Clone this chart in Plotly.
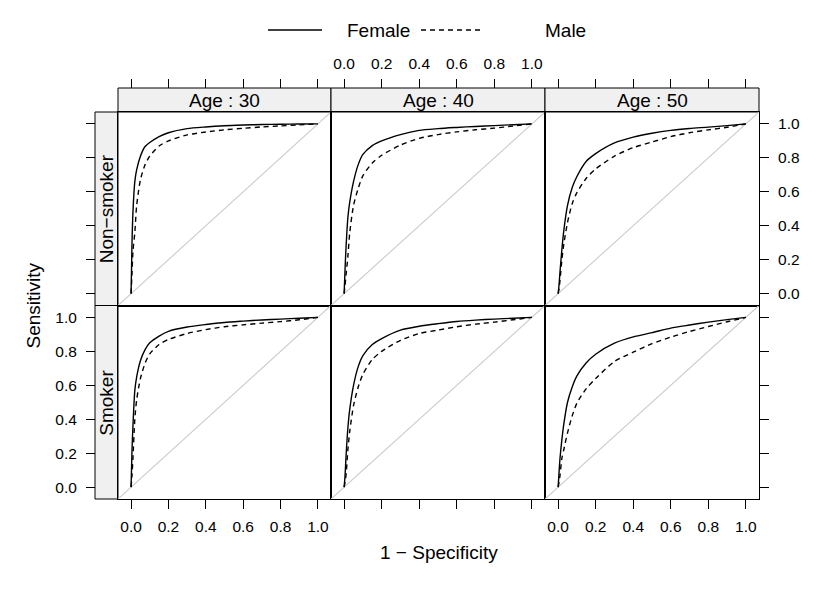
import plotly.graph_objects as go

# ---------------- data ----------------
ages = ["30", "40", "50"]
groups = ["Non\u2212smoker", "Smoker"]
sexes = ["Female", "Male"]
tick_vals = [0.0, 0.2, 0.4, 0.6, 0.8, 1.0]
tick_text = ["0.0", "0.2", "0.4", "0.6", "0.8", "1.0"]

fpr = [0, 0.005, 0.01, 0.02, 0.03, 0.05, 0.075, 0.1, 0.15, 0.2, 0.3, 0.4, 0.5, 0.6, 0.7, 0.8, 0.9, 1.0]

female_30_ns = [0, 0.30, 0.48, 0.66, 0.73, 0.81, 0.867, 0.89, 0.925, 0.948, 0.972, 0.982, 0.989, 0.993, 0.996, 0.998, 0.999, 1.0]
male_30_ns = [0, 0.12, 0.25, 0.36, 0.52, 0.67, 0.76, 0.81, 0.87, 0.90, 0.935, 0.952, 0.965, 0.974, 0.982, 0.988, 0.994, 1.0]
female_40_ns = [0, 0.15, 0.27, 0.45, 0.54, 0.66, 0.76, 0.82, 0.872, 0.90, 0.937, 0.962, 0.972, 0.979, 0.985, 0.99, 0.995, 1.0]
male_40_ns = [0, 0.05, 0.11, 0.22, 0.36, 0.52, 0.62, 0.695, 0.77, 0.815, 0.875, 0.915, 0.937, 0.953, 0.965, 0.975, 0.987, 1.0]
female_50_ns = [0, 0.055, 0.13, 0.26, 0.37, 0.52, 0.625, 0.69, 0.78, 0.825, 0.888, 0.922, 0.945, 0.962, 0.973, 0.981, 0.99, 1.0]
male_50_ns = [0, 0.03, 0.08, 0.20, 0.29, 0.42, 0.53, 0.595, 0.68, 0.735, 0.81, 0.86, 0.893, 0.925, 0.948, 0.965, 0.98, 1.0]

female_30_s = [0, 0.22, 0.36, 0.57, 0.65, 0.745, 0.81, 0.85, 0.89, 0.918, 0.943, 0.958, 0.97, 0.978, 0.985, 0.99, 0.995, 1.0]
male_30_s = [0, 0.07, 0.17, 0.40, 0.515, 0.64, 0.73, 0.785, 0.84, 0.87, 0.905, 0.928, 0.945, 0.956, 0.966, 0.975, 0.986, 1.0]
female_40_s = [0, 0.07, 0.18, 0.35, 0.46, 0.60, 0.71, 0.775, 0.84, 0.875, 0.925, 0.948, 0.963, 0.976, 0.984, 0.99, 0.995, 1.0]
male_40_s = [0, 0.03, 0.07, 0.22, 0.33, 0.48, 0.59, 0.665, 0.752, 0.80, 0.865, 0.905, 0.925, 0.945, 0.96, 0.972, 0.986, 1.0]
female_50_s = [0, 0.09, 0.17, 0.28, 0.37, 0.50, 0.59, 0.655, 0.733, 0.783, 0.848, 0.885, 0.91, 0.937, 0.955, 0.972, 0.987, 1.0]
male_50_s = [0, 0.03, 0.07, 0.17, 0.22, 0.32, 0.42, 0.495, 0.58, 0.64, 0.74, 0.795, 0.845, 0.884, 0.917, 0.946, 0.974, 1.0]

female = [[female_30_ns, female_40_ns, female_50_ns], [female_30_s, female_40_s, female_50_s]]
male = [[male_30_ns, male_40_ns, male_50_ns], [male_30_s, male_40_s, male_50_s]]

# ---------------- layout geometry (pixels) ----------------
W, H = 830, 593
col_px = [(118, 331), (331, 545), (545, 759)]
row_px = [(112, 305.5), (305.5, 499)]   # top, bottom (pixel y from top)
strip_top = 88
strip_left = 95
RNG = [-0.07, 1.07]
FONT = "Liberation Sans, Arial, Helvetica, sans-serif"
TICKFONT = dict(family=FONT, size=15.5, color="black")
DASH = "5px,4px"
LW = 1.4

def fx(p):
    return p / W

def fy(p):
    return (H - p) / H

fig = go.Figure()
layout = {}

for r in range(2):
    for c in range(3):
        i = r * 3 + c + 1
        xa = "x" if i == 1 else f"x{i}"
        ya = "y" if i == 1 else f"y{i}"
        # reference diagonal (chance line across the full panel)
        fig.add_trace(go.Scatter(x=RNG, y=RNG, mode="lines", xaxis=xa, yaxis=ya,
                                 line=dict(color="#cccccc", width=1.1), showlegend=False,
                                 hoverinfo="skip"))
        fig.add_trace(go.Scatter(x=fpr, y=female[r][c], mode="lines", xaxis=xa, yaxis=ya,
                                 line=dict(color="black", width=LW, shape="spline", smoothing=0.7),
                                 name=sexes[0], showlegend=False))
        fig.add_trace(go.Scatter(x=fpr, y=male[r][c], mode="lines", xaxis=xa, yaxis=ya,
                                 line=dict(color="black", width=LW, dash=DASH, shape="spline", smoothing=0.7),
                                 name=sexes[1], showlegend=False))
        xkey = "xaxis" if i == 1 else f"xaxis{i}"
        ykey = "yaxis" if i == 1 else f"yaxis{i}"
        show_xt = (r == 1)
        layout[xkey] = dict(domain=[fx(col_px[c][0]), fx(col_px[c][1])], anchor=ya, range=RNG,
                            showgrid=False, zeroline=False, showline=True, mirror=True,
                            linecolor="black", linewidth=1,
                            ticks="outside" if show_xt else "", ticklen=9, tickcolor="black",
                            tickvals=tick_vals, ticktext=tick_text,
                            showticklabels=(r == 1 and c != 1), tickfont=TICKFONT,
                            ticklabelstandoff=4)
        right = (c == 2)
        layout[ykey] = dict(domain=[fy(row_px[r][1]), fy(row_px[r][0])], anchor=xa, range=RNG,
                            showgrid=False, zeroline=False, showline=True, mirror=True,
                            linecolor="black", linewidth=1,
                            side="right" if right else "left",
                            ticks="outside" if right else "", ticklen=9, tickcolor="black",
                            tickvals=tick_vals, ticktext=tick_text,
                            showticklabels=(right and r == 0), tickfont=TICKFONT,
                            ticklabelstandoff=6)

# left tick axes (outside the strips)
for r, (base, name, xa) in enumerate([("y", "yaxis7", "x"), ("y4", "yaxis8", "x4")]):
    layout[name] = dict(overlaying=base, anchor="free", position=fx(strip_left), side="left",
                        range=RNG, showgrid=False, zeroline=False, showline=False,
                        ticks="outside", ticklen=9, tickcolor="black",
                        tickvals=tick_vals, ticktext=tick_text,
                        showticklabels=(r == 1), tickfont=TICKFONT, ticklabelstandoff=6)
    fig.add_trace(go.Scatter(x=[None], y=[None], xaxis=xa, yaxis="y" + name[5:], showlegend=False,
                             hoverinfo="skip"))

# top tick axes (above the strips)
for c, (base, name, ya) in enumerate([("x", "xaxis7", "y"), ("x2", "xaxis8", "y2"), ("x3", "xaxis9", "y3")]):
    layout[name] = dict(overlaying=base, anchor="free", position=fy(strip_top), side="top",
                        range=RNG, showgrid=False, zeroline=False, showline=False,
                        ticks="outside", ticklen=9, tickcolor="black",
                        tickvals=tick_vals, ticktext=tick_text,
                        showticklabels=(c == 1), tickfont=TICKFONT, ticklabelstandoff=4)
    fig.add_trace(go.Scatter(x=[None], y=[None], xaxis="x" + name[5:], yaxis=ya, showlegend=False,
                             hoverinfo="skip"))

shapes = []
annotations = []
STRIP_FILL = "#f0f0f0"
TXT = dict(family=FONT, size=19, color="black")
# top strips
for c, age in enumerate(ages):
    shapes.append(dict(type="rect", xref="paper", yref="paper",
                       x0=fx(col_px[c][0]), x1=fx(col_px[c][1]), y0=fy(row_px[0][0]), y1=fy(strip_top),
                       fillcolor=STRIP_FILL, line=dict(color="black", width=1), layer="below"))
    annotations.append(dict(xref="paper", yref="paper", x=fx((col_px[c][0] + col_px[c][1]) / 2),
                            y=fy((strip_top + row_px[0][0]) / 2), text=f"Age : {age}", showarrow=False,
                            font=TXT, xanchor="center", yanchor="middle"))
# left strips
for r, g in enumerate(groups):
    shapes.append(dict(type="rect", xref="paper", yref="paper",
                       x0=fx(strip_left), x1=fx(col_px[0][0]), y0=fy(row_px[r][1]), y1=fy(row_px[r][0]),
                       fillcolor=STRIP_FILL, line=dict(color="black", width=1), layer="below"))
    annotations.append(dict(xref="paper", yref="paper", x=fx((strip_left + col_px[0][0]) / 2),
                            y=fy((row_px[r][0] + row_px[r][1]) / 2), text=g, showarrow=False, textangle=-90,
                            font=TXT, xanchor="center", yanchor="middle"))

# axis titles
annotations.append(dict(xref="paper", yref="paper", x=fx(438.5), y=fy(552), text="1 \u2212 Specificity",
                        showarrow=False, font=TXT, xanchor="center", yanchor="middle"))
annotations.append(dict(xref="paper", yref="paper", x=fx(33), y=fy(305.5), text="Sensitivity",
                        showarrow=False, textangle=-90, font=TXT, xanchor="center", yanchor="middle"))

# key (lattice-style legend above the panels)
key_y = fy(30)
key_items = [(sexes[0], 268, 322, 345, None), (sexes[1], 421, 480, 543, DASH)]
for label, l0, l1, tx, dash in key_items:
    ln = dict(color="black", width=LW)
    if dash:
        ln["dash"] = dash
    shapes.append(dict(type="line", xref="paper", yref="paper", x0=fx(l0), x1=fx(l1),
                       y0=key_y, y1=key_y, line=ln))
    annotations.append(dict(xref="paper", yref="paper", x=fx(tx), y=key_y, text=label,
                            showarrow=False, font=TXT, xanchor="left", yanchor="middle"))

fig.update_layout(**layout)
fig.update_layout(
    width=W, height=H, margin=dict(l=0, r=0, t=0, b=0),
    paper_bgcolor="white", plot_bgcolor="white",
    font=dict(family=FONT, size=19, color="black"),
    shapes=shapes, annotations=annotations,
    showlegend=False,
)

fig.write_html("out.html", config={"displayModeBar": False},
               post_script="document.body.style.margin='0px';")
